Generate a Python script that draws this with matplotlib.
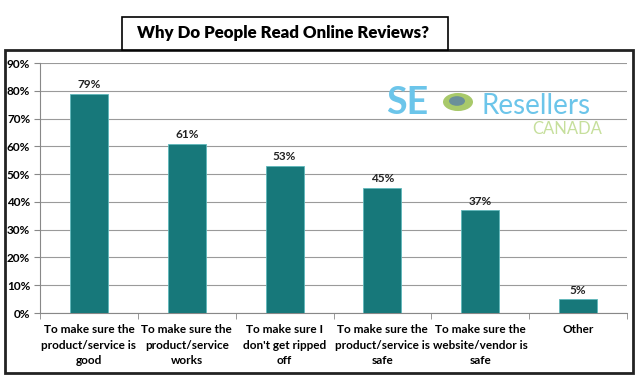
import matplotlib.pyplot as plt
from matplotlib.patches import Rectangle

categories = ["To make sure the\nproduct/service is\ngood",
              "To make sure the\nproduct/service\nworks",
              "To make sure I\ndon't get ripped\noff",
              "To make sure the\nproduct/service is\nsafe",
              "To make sure the\nwebsite/vendor is\nsafe",
              "Other"]
values = [79, 61, 53, 45, 37, 5]
yticks = [0, 10, 20, 30, 40, 50, 60, 70, 80, 90]

W, H = 640, 385
fig = plt.figure(figsize=(W / 100, H / 100), dpi=100)
plt.rcParams['font.family'] = ['Lato', 'DejaVu Sans']

def fx(px):
    return px / W

def fy(py):
    return 1 - py / H

# outer frame and title box
fig.patches.append(Rectangle((fx(5), fy(373)), fx(628), 323 / H, transform=fig.transFigure,
                             fill=False, edgecolor='#222222', linewidth=2))
fig.patches.append(Rectangle((fx(122), fy(50)), fx(326), 33 / H, transform=fig.transFigure,
                             facecolor='white', edgecolor='black', linewidth=1.2))
fig.text(fx(283), fy(33), "Why Do People Read Online Reviews?", ha='center', va='center',
         fontsize=12.2, fontweight='heavy')

ax = fig.add_axes([fx(40), fy(313), fx(587), 250 / H])
x = list(range(len(values)))
ax.bar(x, values, width=0.39, color='#17787A', edgecolor='#5fb8bb', linewidth=0.6, zorder=3)
for xi, v in zip(x, values):
    ax.text(xi, v + 1.3, f"{v}%", ha='center', va='bottom', fontsize=8.5, fontweight='bold',
            color='#222222')

ax.set_xlim(-0.5, len(values) - 0.5)
ax.set_ylim(0, 90)
ax.set_yticks(yticks)
ax.set_yticklabels([f"{t}%" for t in yticks], fontsize=8.5, fontweight='bold')
ax.yaxis.grid(True, color='#9a9a9a', linewidth=0.8, zorder=0)
ax.set_xticks(x)
ax.set_xticklabels(categories, fontsize=8.5, fontweight='bold', linespacing=1.5)
ax.set_xticks([i - 0.5 for i in range(len(values) + 1)], minor=True)
ax.tick_params(axis='x', which='major', length=0, pad=8)
ax.tick_params(axis='x', which='minor', length=4, color='#888888')
ax.tick_params(axis='y', length=4, color='#888888', pad=3)
for s in ['top', 'right']:
    ax.spines[s].set_visible(False)
for s in ['left', 'bottom']:
    ax.spines[s].set_color('#888888')

# logo text
fig.text(fx(386), fy(103), "SE", color='#6cc5ea', fontsize=27, fontweight='bold', va='center')
fig.patches.append(plt.Circle((fx(458), fy(102)), 15 / W, transform=fig.transFigure,
                              facecolor='#a8c96a', edgecolor='none'))
fig.patches.append(plt.Circle((fx(457), fy(101)), 8 / W, transform=fig.transFigure,
                              facecolor='#6a8f99', edgecolor='none'))
fig.text(fx(481), fy(106), "Resellers", color='#6cc5ea', fontsize=20, va='center')
fig.text(fx(602), fy(129), "CANADA", color='#c6df9c', fontsize=12, va='center', ha='right')

fig.savefig("out.png", dpi=100)
